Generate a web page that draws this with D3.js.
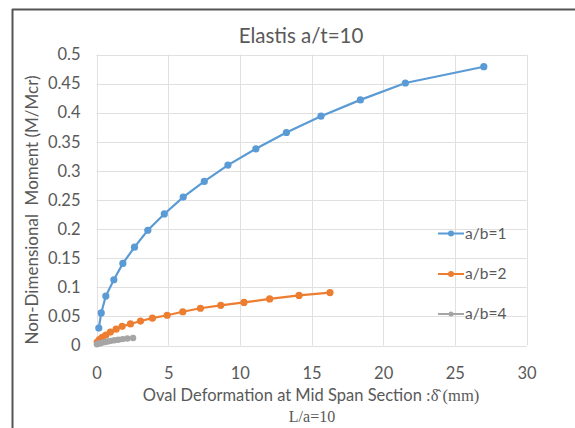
<!DOCTYPE html>
<html>
<head>
<meta charset="utf-8">
<script src="https://cdn.jsdelivr.net/npm/d3@7"></script>
<style>
  body { margin: 0; background: #fff; }
  svg { display: block; }
  text { font-family: Lato, "Open Sans", sans-serif; fill: #595959; }
</style>
</head>
<body>
<svg width="575" height="428"></svg>
<script>
// series values
var seriesNames = ["a/b=1", "a/b=2", "a/b=4"];
var seriesColors = ["#5B9BD5", "#ED7D31", "#A5A5A5"];

var ab1X = [0.16, 0.33, 0.65, 1.21, 1.84, 2.65, 3.58, 4.73, 6.05, 7.52, 9.17, 11.12, 13.25, 15.66, 18.41, 21.55, 27.02];
var ab1Y = [0.030, 0.056, 0.085, 0.113, 0.141, 0.169, 0.198, 0.226, 0.255, 0.282, 0.310, 0.338, 0.366, 0.394, 0.422, 0.451, 0.479];

var ab2X = [0.05, 0.2, 0.4, 0.65, 0.97, 1.37, 1.79, 2.37, 3.07, 3.9, 4.93, 6.02, 7.25, 8.67, 10.29, 12.08, 14.13, 16.29];
var ab2Y = [0.006, 0.010, 0.014, 0.018, 0.023, 0.028, 0.033, 0.037, 0.042, 0.047, 0.052, 0.058, 0.064, 0.069, 0.074, 0.080, 0.086, 0.091];

var ab4X = [0.03, 0.12, 0.25, 0.4, 0.58, 0.78, 1.0, 1.25, 1.52, 1.82, 2.15, 2.55];
var ab4Y = [0.002, 0.003, 0.004, 0.005, 0.006, 0.007, 0.008, 0.009, 0.010, 0.011, 0.012, 0.013];

var xTicks = [0, 5, 10, 15, 20, 25, 30];
var yTicks = [0, 0.05, 0.1, 0.15, 0.2, 0.25, 0.3, 0.35, 0.4, 0.45, 0.5];

function main() {
  var svg = d3.select("svg");

  var left = 96.5, right = 526.5, top = 54.5, bottom = 345.5;

  var x = d3.scaleLinear().domain([0, 30]).range([left, right]);
  var y = d3.scaleLinear().domain([0, 0.5]).range([bottom, top]);

  // outer frame (top and left edges only, like the cropped image)
  svg.append("line").attr("x1", 12).attr("x2", 575).attr("y1", 9.5).attr("y2", 9.5)
    .attr("stroke", "#555").attr("stroke-width", 2);
  svg.append("line").attr("x1", 12.5).attr("x2", 12.5).attr("y1", 9).attr("y2", 428)
    .attr("stroke", "#555").attr("stroke-width", 2);

  // gridlines
  var grid = svg.append("g");
  grid.selectAll(".hg").data(yTicks).enter().append("line")
    .attr("x1", left).attr("x2", right)
    .attr("y1", function (d) { return Math.round(y(d)) + 0.5; })
    .attr("y2", function (d) { return Math.round(y(d)) + 0.5; })
    .attr("stroke", "#e0e0e0");
  grid.selectAll(".vg").data(xTicks).enter().append("line")
    .attr("y1", top).attr("y2", bottom)
    .attr("x1", function (d) { return Math.round(x(d)) + 0.5; })
    .attr("x2", function (d) { return Math.round(x(d)) + 0.5; })
    .attr("stroke", "#e0e0e0");

  // axes, labels only
  var yAxis = svg.append("g")
    .attr("transform", "translate(" + left + ",0)")
    .call(d3.axisLeft(y).tickValues(yTicks).tickSize(0).tickPadding(16)
      .tickFormat(function (d) { return d3.format("")(+d.toFixed(2)); }));
  var xAxis = svg.append("g")
    .attr("transform", "translate(0," + bottom + ")")
    .call(d3.axisBottom(x).tickValues(xTicks).tickSize(0).tickPadding(22));
  [xAxis, yAxis].forEach(function (a) {
    a.select(".domain").remove();
    a.selectAll("text").style("font-size", "16.5px").style("fill", "#595959")
      .style("font-family", "Lato, sans-serif");
  });

  // series
  var allSeries = [
    { name: seriesNames[0], color: seriesColors[0], xs: ab1X, ys: ab1Y, r: 3.6 },
    { name: seriesNames[1], color: seriesColors[1], xs: ab2X, ys: ab2Y, r: 3.6 },
    { name: seriesNames[2], color: seriesColors[2], xs: ab4X, ys: ab4Y, r: 3.2 }
  ];
  var line = d3.line()
    .x(function (d) { return x(d[0]); })
    .y(function (d) { return y(d[1]); });

  allSeries.forEach(function (s) {
    var pts = s.xs.map(function (v, i) { return [v, s.ys[i]]; });
    svg.append("path").datum(pts)
      .attr("d", line).attr("fill", "none")
      .attr("stroke", s.color).attr("stroke-width", 2.2);
    svg.append("g").selectAll("circle").data(pts).enter().append("circle")
      .attr("cx", function (d) { return x(d[0]); })
      .attr("cy", function (d) { return y(d[1]); })
      .attr("r", s.r).attr("fill", s.color);
  });

  // legend
  var legendY = [233.5, 274, 314];
  allSeries.forEach(function (s, i) {
    var g = svg.append("g").attr("transform", "translate(438," + legendY[i] + ")");
    g.append("line").attr("x1", 0).attr("x2", 26).attr("stroke", s.color).attr("stroke-width", 2);
    g.append("circle").attr("cx", 13).attr("r", i === 2 ? 2.5 : 3).attr("fill", s.color);
    g.append("text").attr("x", 27).attr("dy", "0.35em")
      .style("font-size", "15.5px").text(s.name);
  });

  // title
  svg.append("text").attr("x", 301).attr("y", 43).attr("text-anchor", "middle")
    .style("font-size", "20.5px").text("Elastis a/t=10");

  // y axis title
  svg.append("text")
    .attr("transform", "translate(38,210) rotate(-90)")
    .attr("text-anchor", "middle")
    .attr("xml:space", "preserve")
    .style("white-space", "pre")
    .style("font-size", "17px")
    .text("Non-Dimensional  Moment (M/Mcr)");

  // x axis title
  var xt = svg.append("text").attr("x", 311).attr("y", 401).attr("text-anchor", "middle")
    .style("font-size", "16.5px");
  xt.append("tspan").text("Oval Deformation at Mid Span Section ");
  xt.append("tspan").style("font-family", "'Liberation Serif', serif").text(":\u03B4\u0302 (mm)");

  svg.append("text").attr("x", 312).attr("y", 422).attr("text-anchor", "middle")
    .style("font-family", "'Liberation Serif', serif").style("font-size", "16px")
    .text("L/a=10");
}
main();
</script>
</body>
</html>
